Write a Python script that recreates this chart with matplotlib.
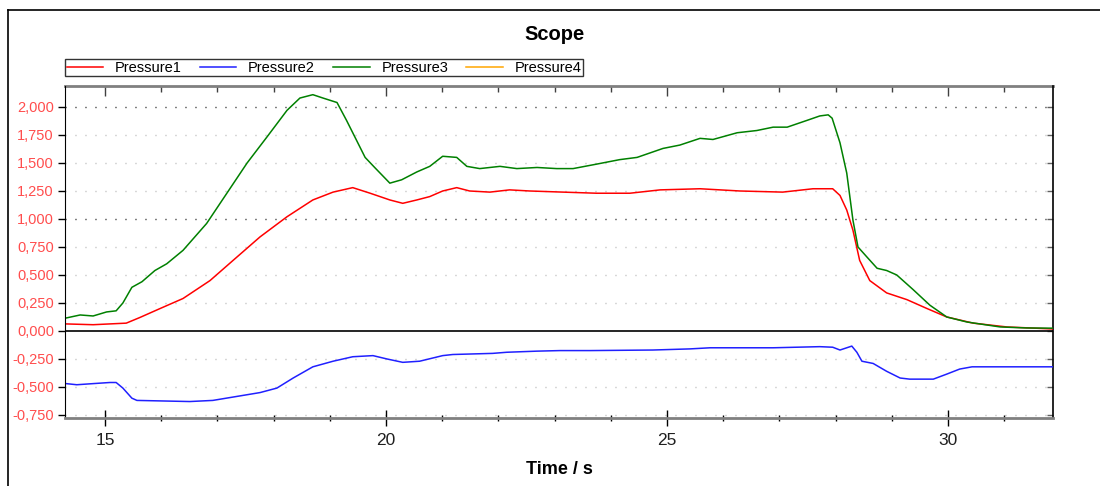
import matplotlib
matplotlib.use("Agg")
import matplotlib.pyplot as plt
from matplotlib.lines import Line2D
from matplotlib.ticker import MultipleLocator, FuncFormatter, NullFormatter

plt.rcParams['font.family'] = ['Liberation Sans', 'DejaVu Sans']

# Pressure1 (red)
t1 = [14.31, 14.79, 15.38, 15.62, 15.98, 16.39, 16.87, 17.28, 17.76, 18.24,
      18.70, 19.06, 19.41, 19.72, 20.07, 20.30, 20.55, 20.78, 21.01, 21.26,
      21.49, 21.85, 22.20, 22.56, 23.15, 23.75, 24.34, 24.88, 25.59, 26.30,
      27.06, 27.60, 27.95, 28.08, 28.20, 28.31, 28.43, 28.61, 28.91, 29.27,
      29.63, 29.98, 30.45, 31.05, 31.87]
p1 = [0.063, 0.056, 0.070, 0.120, 0.200, 0.290, 0.450, 0.630, 0.840, 1.020,
      1.170, 1.240, 1.280, 1.230, 1.170, 1.140, 1.170, 1.200, 1.250, 1.280,
      1.250, 1.240, 1.260, 1.250, 1.240, 1.230, 1.230, 1.260, 1.270, 1.250,
      1.240, 1.270, 1.270, 1.210, 1.080, 0.900, 0.630, 0.450, 0.340, 0.280,
      0.200, 0.125, 0.070, 0.036, 0.018]

# Pressure2 (blue)
t2 = [14.31, 14.50, 14.79, 15.09, 15.20, 15.32, 15.48, 15.57, 16.51, 16.92,
      17.40, 17.76, 18.06, 18.35, 18.70, 19.06, 19.41, 19.77, 20.02, 20.30,
      20.60, 21.01, 21.19, 21.90, 22.15, 22.69, 23.10, 23.63, 24.75, 25.41,
      25.77, 26.30, 26.89, 27.72, 27.95, 28.08, 28.29, 28.38, 28.47, 28.67,
      28.91, 29.15, 29.32, 29.74, 29.98, 30.21, 30.43, 31.87]
p2 = [-0.47, -0.48, -0.47, -0.46, -0.46, -0.51, -0.60, -0.62, -0.63, -0.62,
      -0.58, -0.55, -0.51, -0.42, -0.32, -0.27, -0.23, -0.22, -0.25, -0.28,
      -0.27, -0.22, -0.21, -0.20, -0.19, -0.18, -0.175, -0.175, -0.17, -0.16,
      -0.15, -0.15, -0.15, -0.14, -0.145, -0.17, -0.135, -0.19, -0.27, -0.29,
      -0.36, -0.42, -0.43, -0.43, -0.385, -0.34, -0.32, -0.32]

# Pressure3 (green)
t3 = [14.31, 14.56, 14.79, 15.03, 15.20, 15.32, 15.48, 15.66, 15.89, 16.10,
      16.39, 16.81, 17.17, 17.53, 17.88, 18.24, 18.47, 18.70, 18.88, 19.13,
      19.30, 19.48, 19.63, 19.80, 20.07, 20.28, 20.55, 20.78, 21.01, 21.26,
      21.44, 21.67, 22.03, 22.33, 22.69, 23.04, 23.33, 23.75, 24.16, 24.47,
      24.93, 25.23, 25.59, 25.82, 26.25, 26.60, 26.89, 27.14, 27.49, 27.72,
      27.87, 27.94, 28.08, 28.20, 28.31, 28.40, 28.56, 28.74, 28.91, 29.09,
      29.38, 29.68, 29.98, 30.34, 30.93, 31.40, 31.87]
p3 = [0.116, 0.143, 0.134, 0.170, 0.180, 0.250, 0.390, 0.440, 0.540, 0.600,
      0.720, 0.960, 1.230, 1.500, 1.730, 1.970, 2.080, 2.110, 2.080, 2.040,
      1.880, 1.700, 1.550, 1.460, 1.320, 1.350, 1.420, 1.470, 1.560, 1.550,
      1.470, 1.450, 1.470, 1.450, 1.460, 1.450, 1.450, 1.490, 1.530, 1.550,
      1.630, 1.660, 1.720, 1.710, 1.770, 1.790, 1.820, 1.820, 1.880, 1.920,
      1.930, 1.900, 1.680, 1.410, 0.990, 0.750, 0.660, 0.560, 0.540, 0.500,
      0.370, 0.230, 0.125, 0.080, 0.036, 0.027, 0.025]

# Pressure4 (orange) - no samples visible
t4 = []
p4 = []

series = [("Pressure1", t1, p1, "#ff0000"),
          ("Pressure2", t2, p2, "#2020ff"),
          ("Pressure3", t3, p3, "#008000"),
          ("Pressure4", t4, p4, "#ffa500")]

fig = plt.figure(figsize=(11, 4.86), dpi=100)
ax = fig.add_axes([65 / 1100, 1 - 418 / 486, (1053 - 65) / 1100, (418 - 86) / 486])

for name, t, p, c in series:
    ax.plot(t, p, color=c, lw=1.1, label=name)

ax.set_xlim(14.29, 31.87)
ax.set_ylim(-0.777, 2.1875)

ax.axhline(0, color="black", lw=1.2, zorder=1)

ax.yaxis.set_major_locator(MultipleLocator(0.25))
ax.yaxis.set_major_formatter(FuncFormatter(lambda v, pos: f"{v:.3f}".replace(".", ",")))
ax.xaxis.set_major_locator(MultipleLocator(5))
ax.xaxis.set_minor_locator(MultipleLocator(1))

# dotted grid lines
for v in [x * 0.25 for x in range(-3, 9)]:
    if abs(v) < 1e-9:
        continue
    dark = abs(v - round(v)) < 1e-9
    ax.axhline(v, color="black" if dark else "#b0b0b0", lw=1.0,
               ls=(0, (0.7, 6.5)), zorder=0)

ax.tick_params(axis="y", which="major", direction="out", length=5, width=1,
               labelsize=10.5, labelcolor="#ff4d4d", pad=3)
ax.tick_params(axis="x", which="major", direction="inout", length=12, width=1,
               labelsize=12.5, labelcolor="#202020", pad=5)
ax.tick_params(axis="x", which="minor", direction="inout", length=5, width=1)

# top and right ticks point inward
top = ax.secondary_xaxis("top")
top.xaxis.set_major_locator(MultipleLocator(5))
top.xaxis.set_minor_locator(MultipleLocator(1))
top.xaxis.set_major_formatter(NullFormatter())
top.tick_params(which="major", direction="in", length=7, width=1, color="#404040")
top.tick_params(which="minor", direction="in", length=4, width=1, color="#404040")
top.spines["top"].set_color("#808080")
top.spines["top"].set_linewidth(2)

right = ax.secondary_yaxis("right")
right.yaxis.set_major_locator(MultipleLocator(0.25))
right.yaxis.set_major_formatter(NullFormatter())
right.tick_params(direction="in", length=4, width=1, color="#606060")
right.spines["right"].set_color("black")
right.spines["right"].set_linewidth(1.2)

ax.spines["top"].set_visible(False)
ax.spines["right"].set_visible(False)
ax.spines["bottom"].set_color("#808080")
ax.spines["bottom"].set_linewidth(2)
ax.spines["left"].set_color("black")

ax.set_xlabel("Time / s", fontsize=13, fontweight="bold", labelpad=9)
fig.text(555 / 1100, 1 - 34 / 486, "Scope", fontsize=14.5, fontweight="bold",
         ha="center", va="center")

leg = fig.legend(loc="upper left", bbox_to_anchor=(65 / 1100, 1 - 59 / 486),
                 ncol=4, fontsize=10.5, frameon=True, fancybox=False, shadow=False,
                 edgecolor="black", handlelength=2.5, handletextpad=0.8,
                 columnspacing=1.25, borderpad=0.12, borderaxespad=0)
leg.get_frame().set_linewidth(1.0)

# outer frame
fig.add_artist(Line2D([8 / 1100, 8 / 1100], [0, 1 - 10 / 486], color="black", lw=1.2,
                      transform=fig.transFigure))
fig.add_artist(Line2D([8 / 1100, 1], [1 - 10 / 486, 1 - 10 / 486], color="black", lw=1.2,
                      transform=fig.transFigure))

fig.savefig("out.png", dpi=100)
